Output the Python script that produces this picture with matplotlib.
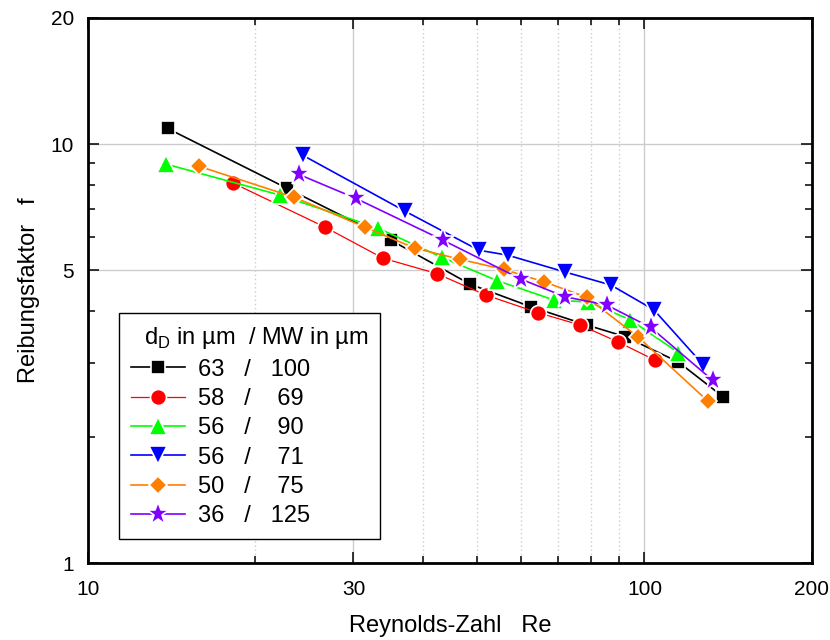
import numpy as np
import matplotlib.pyplot as plt
from matplotlib.ticker import FixedLocator, NullFormatter

plt.rcParams['font.family'] = ['Liberation Sans', 'DejaVu Sans']
plt.rcParams['mathtext.fontset'] = 'custom'
plt.rcParams['mathtext.rm'] = 'Liberation Sans'

# Messwerte: Reynolds-Zahl und Reibungsfaktor je Pulver
re_63 = [13.9, 22.8, 35.0, 48.6, 62.5, 78.7, 92.3, 115.0, 138.6]
f_63 = [10.9, 7.84, 5.90, 4.63, 4.09, 3.70, 3.47, 3.02, 2.49]

re_58 = [18.2, 26.7, 33.9, 42.3, 51.9, 64.3, 76.6, 89.7, 104.4]
f_58 = [8.08, 6.33, 5.34, 4.91, 4.36, 3.96, 3.70, 3.37, 3.05]

re_56a = [13.8, 22.1, 33.2, 43.2, 54.4, 68.9, 79.3, 94.2, 115.0]
f_56a = [8.96, 7.56, 6.30, 5.37, 4.72, 4.24, 4.20, 3.81, 3.18]

re_56b = [24.3, 37.1, 50.4, 56.8, 72.0, 87.0, 104.0, 127.6]
f_56b = [9.41, 6.92, 5.58, 5.43, 4.95, 4.61, 4.02, 2.97]

re_50 = [15.8, 23.5, 31.5, 38.7, 46.6, 55.9, 66.0, 78.7, 97.5, 130.2]
f_50 = [8.86, 7.46, 6.33, 5.64, 5.31, 5.02, 4.69, 4.31, 3.46, 2.43]

re_36 = [23.9, 30.3, 43.4, 60.0, 72.0, 85.5, 102.6, 132.6]
f_36 = [8.47, 7.42, 5.90, 4.76, 4.32, 4.13, 3.65, 2.73]

labels = ['63   /   100', '58   /    69', '56   /    90',
          '56   /    71', '50   /    75', '36   /   125']

fig = plt.figure(figsize=(8.3, 6.4), dpi=100)
ax = fig.add_axes([0.106, 0.1203, 0.8723, 0.8516])

series = [
    (re_63, f_63, 'black', 's', 10, 1.2),
    (re_58, f_58, '#ff0000', 'o', 11.5, 0.9),
    (re_56a, f_56a, '#00ff00', '^', 12.5, 1.2),
    (re_56b, f_56b, '#0000ff', 'v', 12.5, 1.2),
    (re_50, f_50, '#ff7f00', 'D', 9.5, 1.2),
    (re_36, f_36, '#7f00ff', '*', 17, 1.2),
]

for (x, y, c, m, ms, lw), lab in zip(series, labels):
    ax.plot(x, y, color=c, marker=m, markersize=ms, linewidth=lw,
            markeredgecolor='white', markeredgewidth=1.2,
            markerfacecolor=c, label=lab)

ax.set_xscale('log')
ax.set_yscale('log')
ax.set_xlim(10, 200)
ax.set_ylim(1, 20)

ax.xaxis.set_major_locator(FixedLocator([10, 30, 100, 200]))
ax.xaxis.set_minor_locator(FixedLocator([20, 40, 50, 60, 70, 80, 90]))
ax.yaxis.set_major_locator(FixedLocator([1, 5, 10, 20]))
ax.yaxis.set_minor_locator(FixedLocator([2, 3, 4, 6, 7, 8, 9]))
ax.set_xticklabels(['10', '30', '100', '200'])
ax.set_yticklabels(['1', '5', '10', '20'])
ax.xaxis.set_minor_formatter(NullFormatter())
ax.yaxis.set_minor_formatter(NullFormatter())

ax.tick_params(which='both', direction='in', top=True, right=True,
               labelsize=15, width=1.1)
ax.tick_params(axis='x', which='both', pad=12)
ax.tick_params(axis='y', which='both', pad=10)
ax.tick_params(which='major', length=8)
ax.tick_params(which='minor', length=5)

# Gitter
ax.grid(True, which='major', color='#cccccc', linewidth=1.0)
ax.xaxis.grid(True, which='minor', color='#cccccc', linewidth=1.0,
              linestyle=(0, (1, 2)))
ax.set_axisbelow(True)

for sp in ax.spines.values():
    sp.set_linewidth(2)

ax.set_xlabel('Reynolds-Zahl   Re', fontsize=17, labelpad=12)
ax.set_ylabel('Reibungsfaktor   f', fontsize=17, labelpad=8)

leg = ax.legend(loc='lower left', bbox_to_anchor=(0.043, 0.044),
                borderaxespad=0, fontsize=17, frameon=True, fancybox=False,
                edgecolor='black', handlelength=2.3, labelspacing=0.31,
                handletextpad=0.55, borderpad=0.5, numpoints=1,
                title='  d$_\\mathregular{D}$ in µm  / MW in µm',
                title_fontsize=17)
leg._legend_box.align = 'left'
leg.get_frame().set_linewidth(1.0)
leg.get_frame().set_alpha(1)

fig.savefig('out.png', dpi=100)
